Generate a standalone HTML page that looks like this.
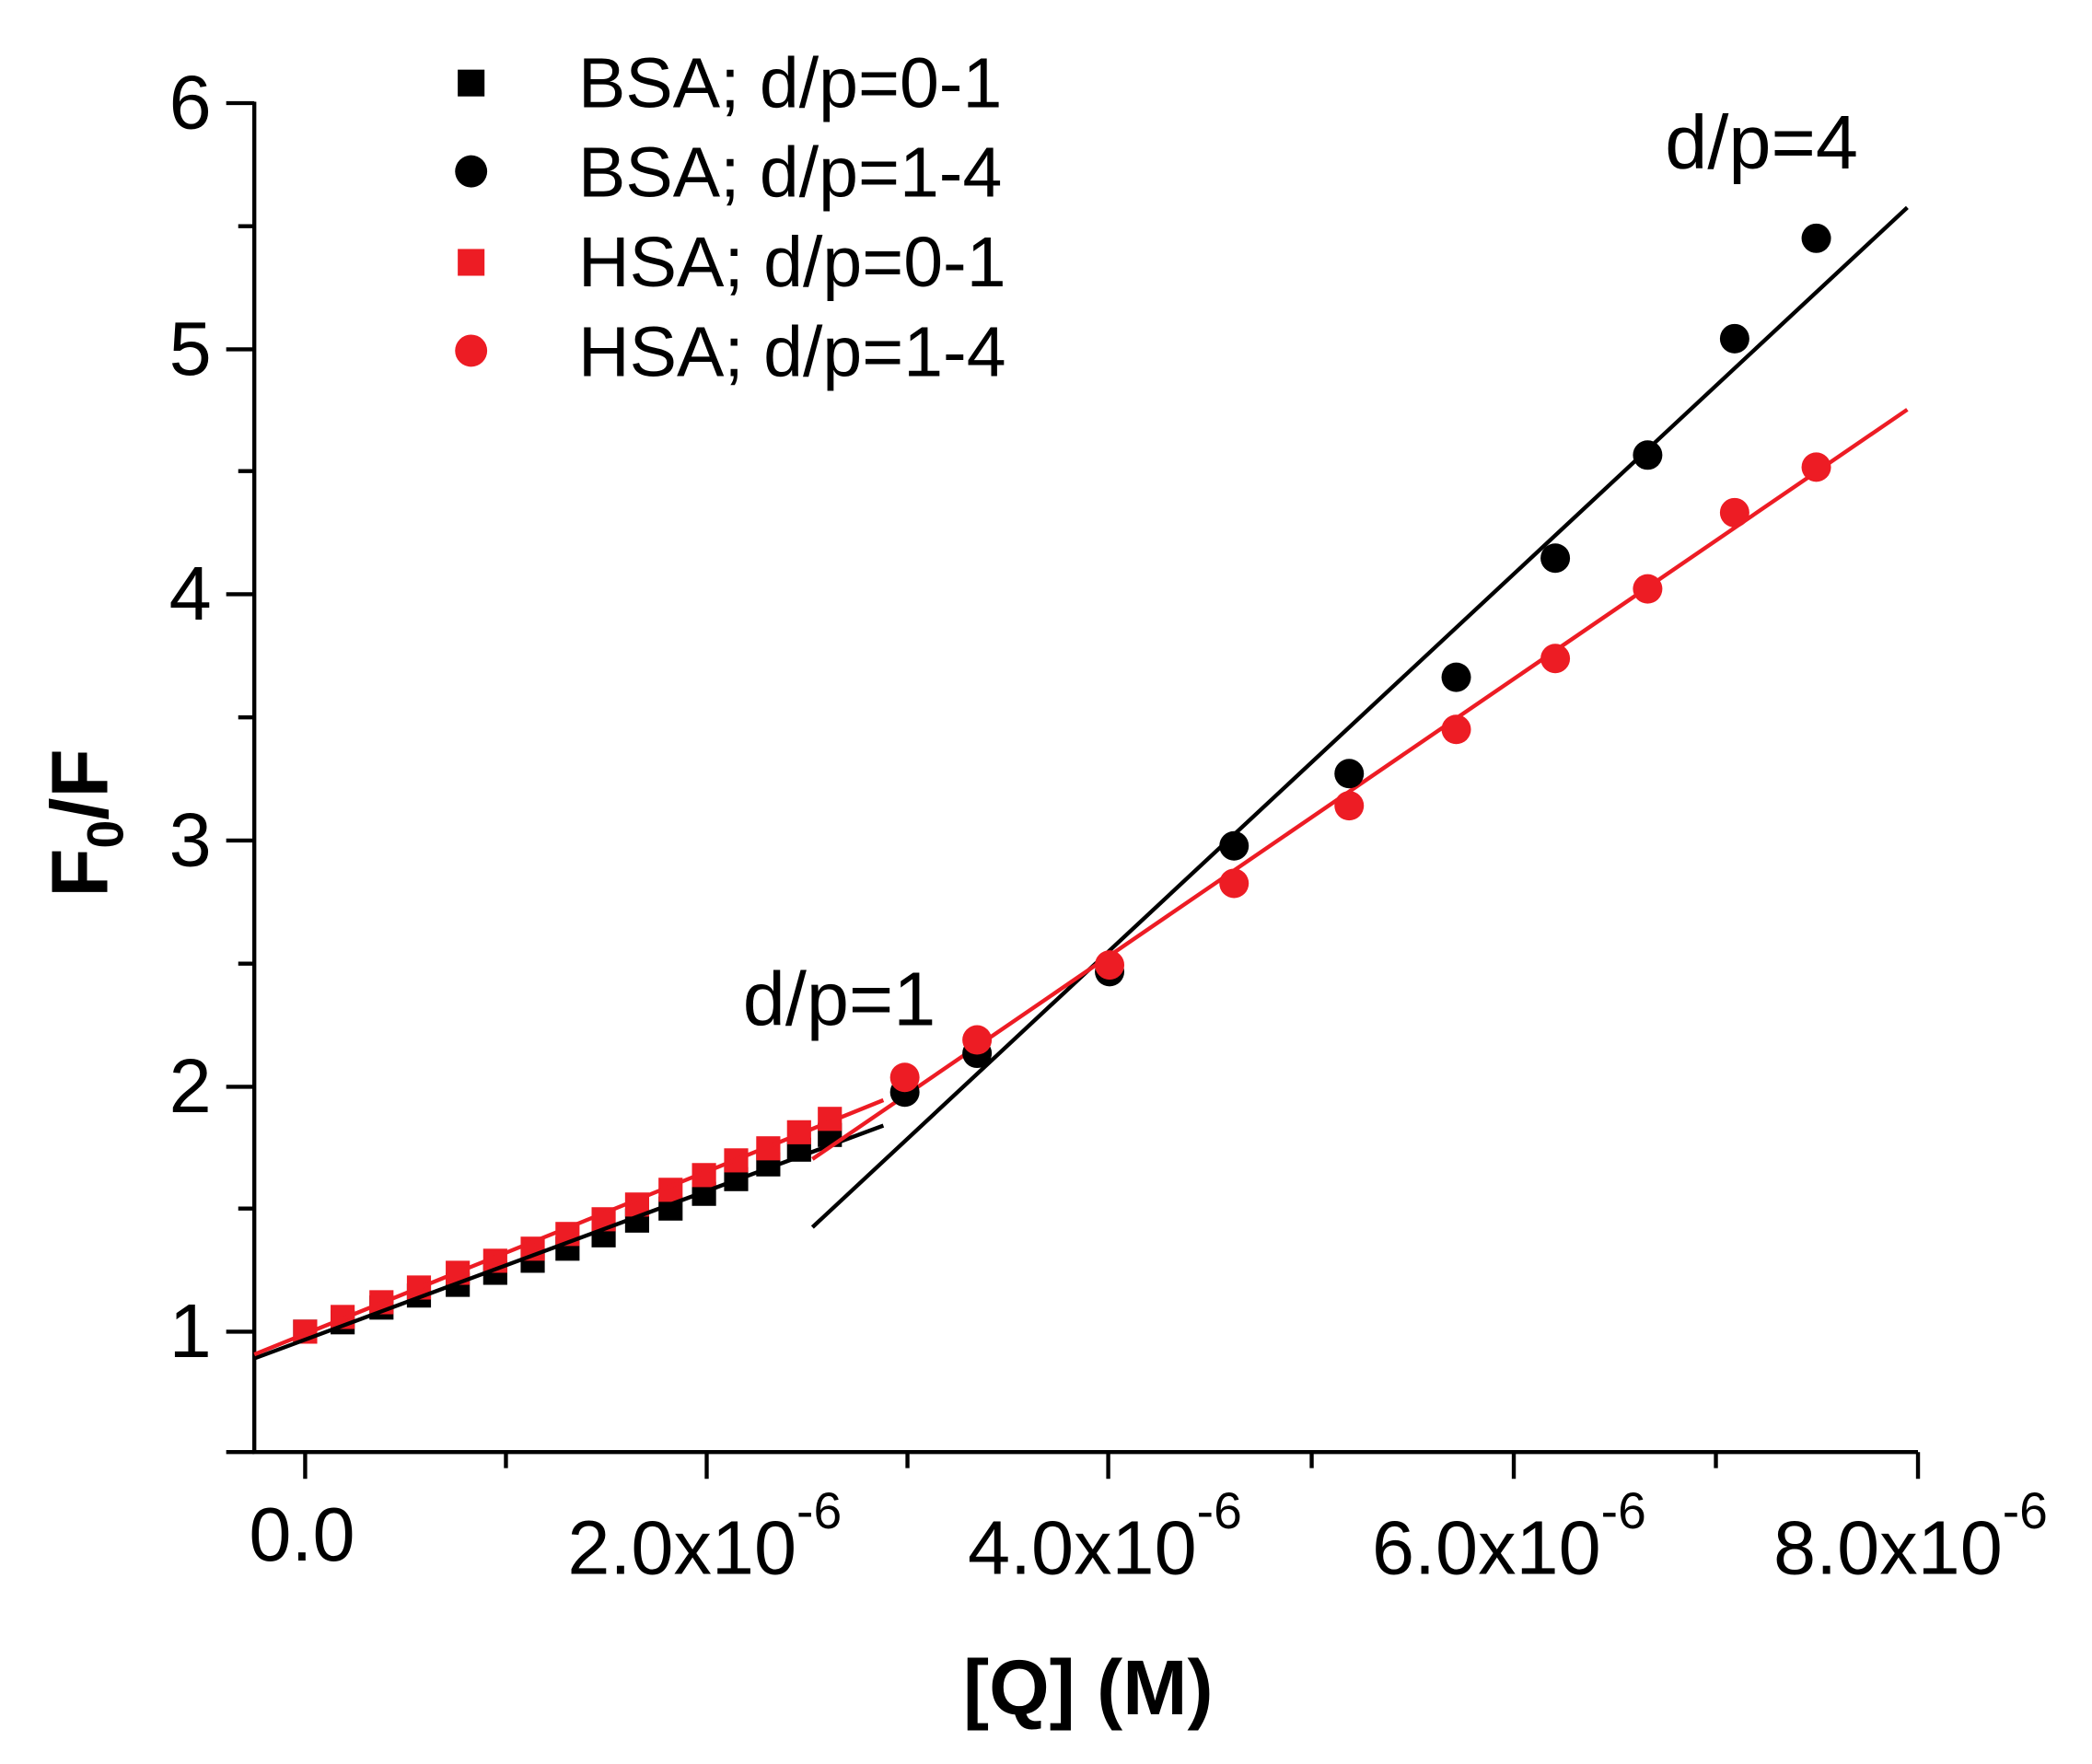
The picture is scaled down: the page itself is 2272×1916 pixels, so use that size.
<!DOCTYPE html>
<html><head><meta charset="utf-8"><style>html,body{margin:0;padding:0;background:#fff}svg{display:block}text{font-family:"Liberation Sans",Arial,sans-serif}</style></head>
<body>
<svg width="2272" height="1916" viewBox="0 0 1563 1318" xmlns="http://www.w3.org/2000/svg">
<g stroke="#000" stroke-width="3" fill="none">
<path d="M190 76 V1085 H1433"/>
<path d="M169 77H190 M169 261H190 M169 444H190 M169 628H190 M169 812H190 M169 995H190 M169 1085H190"/>
<path d="M178 169H190 M178 352H190 M178 536H190 M178 720H190 M178 903H190"/>
<path d="M228 1085V1105 M528 1085V1105 M828 1085V1105 M1131 1085V1105 M1433 1085V1105"/>
<path d="M378 1085V1097 M678 1085V1097 M980 1085V1097 M1282 1085V1097"/>
</g>
<g font-size="57" text-anchor="end">
<text x="158" y="96">6</text><text x="158" y="280">5</text><text x="158" y="463">4</text><text x="158" y="647">3</text><text x="158" y="831">2</text><text x="158" y="1014">1</text>
</g>
<g font-size="57">
<text x="186" y="1166">0.0</text>
<text x="424" y="1176">2.0x10<tspan font-size="38" dy="-34">-6</tspan></text>
<text x="723" y="1176">4.0x10<tspan font-size="38" dy="-34">-6</tspan></text>
<text x="1025" y="1176">6.0x10<tspan font-size="38" dy="-34">-6</tspan></text>
<text x="1325" y="1176">8.0x10<tspan font-size="38" dy="-34">-6</tspan></text>
</g>
<text x="813" y="1281" font-size="58" font-weight="bold" text-anchor="middle">[Q] (M)</text>
<text transform="translate(80,615) rotate(-90)" font-size="60" font-weight="bold" text-anchor="middle">F<tspan font-size="38" dy="12">0</tspan><tspan dy="-12">/F</tspan></text>
<rect x="342" y="52" width="20" height="20" fill="#000"/>
<circle cx="352" cy="128" r="12" fill="#000"/>
<rect x="342" y="186" width="20" height="20" fill="#ed1c24"/>
<circle cx="352" cy="262" r="12" fill="#ed1c24"/>
<g font-size="53">
<text x="432" y="80">BSA; d/p=0-1</text>
<text x="432" y="147">BSA; d/p=1-4</text>
<text x="432" y="214">HSA; d/p=0-1</text>
<text x="432" y="281">HSA; d/p=1-4</text>
<text x="1244" y="126" font-size="57">d/p=4</text>
<text x="555" y="766" font-size="57">d/p=1</text>
</g>
<g fill="#000">
<rect x="219" y="986" width="18" height="18"/><rect x="247" y="979" width="18" height="18"/><rect x="276" y="968" width="18" height="18"/><rect x="304" y="959" width="18" height="18"/><rect x="333" y="951" width="18" height="18"/><rect x="361" y="942" width="18" height="18"/><rect x="389" y="933" width="18" height="18"/><rect x="415" y="924" width="18" height="18"/><rect x="442" y="914" width="18" height="18"/><rect x="467" y="903" width="18" height="18"/><rect x="492" y="894" width="18" height="18"/><rect x="517" y="883" width="18" height="18"/><rect x="541" y="872" width="18" height="18"/><rect x="565" y="861" width="18" height="18"/><rect x="588" y="850" width="18" height="18"/><rect x="611" y="839" width="18" height="18"/>
</g>
<g fill="#ed1c24">
<rect x="219" y="986" width="18" height="18"/><rect x="247" y="975" width="18" height="18"/><rect x="276" y="964" width="18" height="18"/><rect x="304" y="953" width="18" height="18"/><rect x="333" y="942" width="18" height="18"/><rect x="361" y="933" width="18" height="18"/><rect x="389" y="924" width="18" height="18"/><rect x="415" y="913" width="18" height="18"/><rect x="442" y="902" width="18" height="18"/><rect x="467" y="891" width="18" height="18"/><rect x="492" y="880" width="18" height="18"/><rect x="517" y="869" width="18" height="18"/><rect x="541" y="858" width="18" height="18"/><rect x="565" y="849" width="18" height="18"/><rect x="588" y="837" width="18" height="18"/><rect x="611" y="827" width="18" height="18"/>
</g>
<g fill="none" stroke-width="3">
<path d="M190 1015 L660 841" stroke="#000"/>
<path d="M190 1012 L660 822" stroke="#ed1c24"/>
<path d="M607 917 L1425 155" stroke="#000"/>
<path d="M607 866 L1425 306" stroke="#ed1c24"/>
</g>
<g fill="#000">
<circle cx="676" cy="816" r="11"/><circle cx="730" cy="787" r="11"/><circle cx="829" cy="726" r="11"/><circle cx="922" cy="632" r="11"/><circle cx="1008" cy="578" r="11"/><circle cx="1088" cy="506" r="11"/><circle cx="1162" cy="417" r="11"/><circle cx="1231" cy="340" r="11"/><circle cx="1296" cy="253" r="11"/><circle cx="1357" cy="178" r="11"/>
</g>
<g fill="#ed1c24">
<circle cx="676" cy="805" r="11"/><circle cx="730" cy="777" r="11"/><circle cx="829" cy="721" r="11"/><circle cx="922" cy="660" r="11"/><circle cx="1008" cy="602" r="11"/><circle cx="1088" cy="545" r="11"/><circle cx="1162" cy="492" r="11"/><circle cx="1231" cy="440" r="11"/><circle cx="1296" cy="383" r="11"/><circle cx="1357" cy="349" r="11"/>
</g>
</svg>
</body></html>
